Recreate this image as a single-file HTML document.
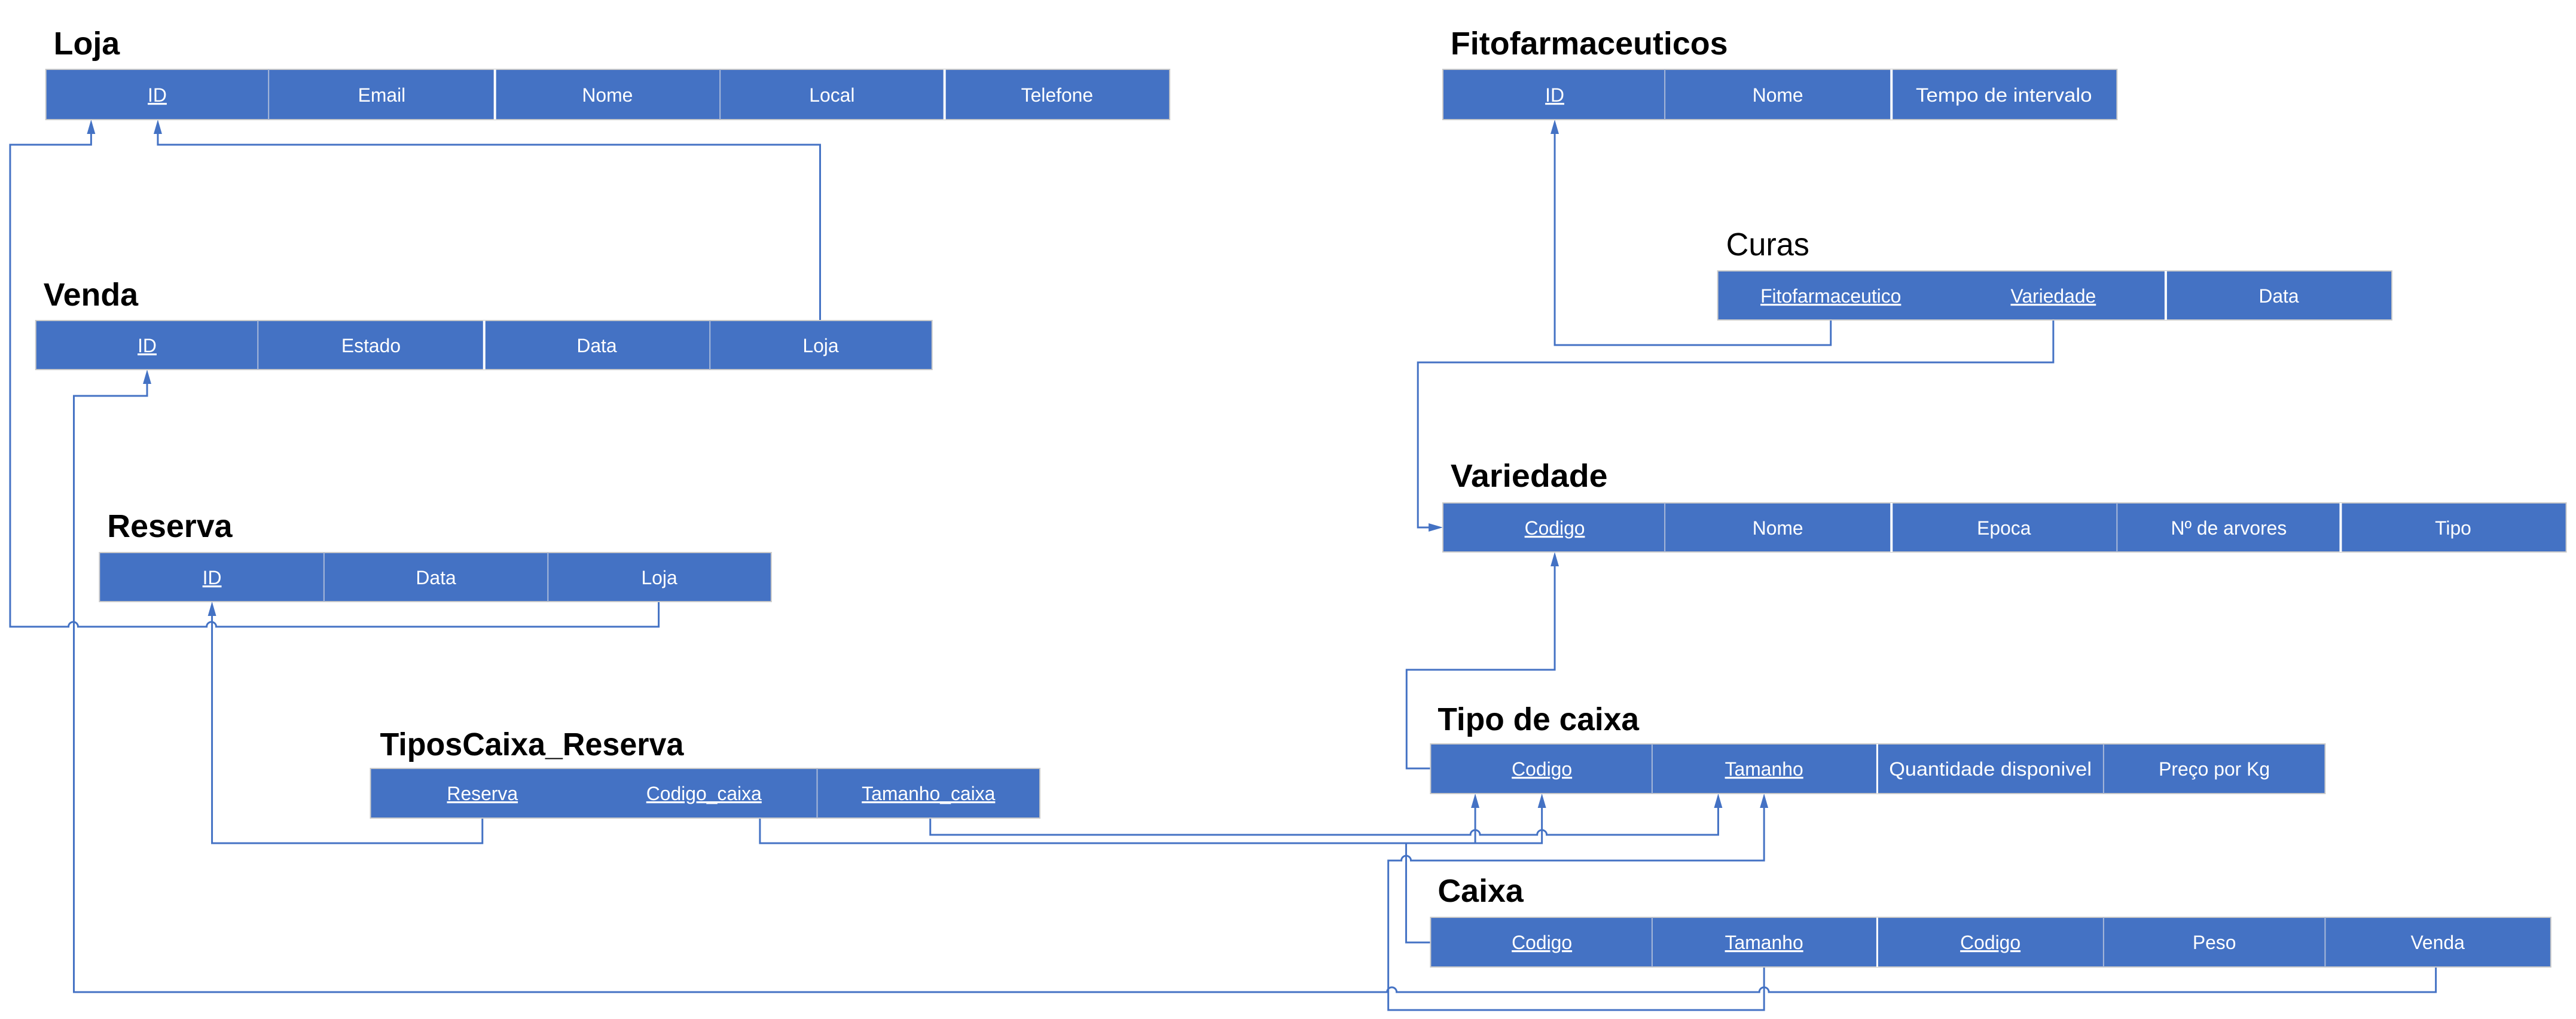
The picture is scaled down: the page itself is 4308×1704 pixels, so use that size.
<!DOCTYPE html>
<html><head><meta charset="utf-8"><style>
html,body{margin:0;padding:0;background:#fff;}
svg{display:block;}
.t{font-family:"Liberation Sans",sans-serif;font-weight:bold;font-size:54px;fill:#000;}
.c{font-family:"Liberation Sans",sans-serif;font-size:32px;fill:#fff;text-anchor:middle;}
.u{text-decoration:underline;}
.l{fill:none;stroke:#4472C4;stroke-width:3;}
</style></head><body>
<svg width="4308" height="1704" viewBox="0 0 4308 1704" xmlns="http://www.w3.org/2000/svg">
<!-- right-top group -->
<g transform="translate(2413,0) scale(0.995,1) translate(-2413,0)">
<g class="l">
<path d="M3065 535 V577 H2601 V215"/>
<path d="M3439 535 V606 H2371 V882 H2398"/>
<path d="M2392 1285 H2352 V1120 H2601 V938"/>
</g>
<g fill="#4472C4">
<polygon points="2601,200 2594,224 2608,224"/>
<polygon points="2413,882 2389,875 2389,889"/>
<polygon points="2601,923 2594,947 2608,947"/>
</g>
<g fill="#4472C4" stroke="#c9c9c9" stroke-width="2">
<rect x="2413" y="116" width="1133" height="84"/>
<rect x="2875" y="453" width="1133" height="82"/>
<rect x="2413" y="841" width="1888" height="82"/>
</g>
<g stroke="#a9b9d9" stroke-width="2">
<line x1="2786" y1="116" x2="2786" y2="200"/><line x1="3167" y1="116" x2="3167" y2="200" stroke="#fff" stroke-width="4"/>
<line x1="3628" y1="453" x2="3628" y2="535" stroke="#fff" stroke-width="4"/>
<line x1="2786" y1="841" x2="2786" y2="923"/><line x1="3167" y1="841" x2="3167" y2="923" stroke="#fff" stroke-width="4"/><line x1="3546" y1="841" x2="3546" y2="923"/><line x1="3922" y1="841" x2="3922" y2="923" stroke="#fff" stroke-width="4"/>
</g>
<text class="t" x="2426" y="91" textLength="466" lengthAdjust="spacingAndGlyphs">Fitofarmaceuticos</text>
<text class="t" x="2889" y="427" style="font-weight:normal" textLength="140" lengthAdjust="spacingAndGlyphs">Curas</text>
<text class="t" x="2426" y="814" textLength="264" lengthAdjust="spacingAndGlyphs">Variedade</text>
<g class="c">
<text x="2601" y="170" class="u">ID</text><text x="2976" y="170">Nome</text><text x="3356" y="170" textLength="296" lengthAdjust="spacingAndGlyphs">Tempo de intervalo</text>
<text x="3065" y="506" class="u">Fitofarmaceutico</text><text x="3439" y="506" class="u">Variedade</text><text x="3818" y="506">Data</text>
<text x="2601" y="894" class="u">Codigo</text><text x="2976" y="894">Nome</text><text x="3356" y="894">Epoca</text><text x="3734" y="894">Nº de arvores</text><text x="4111" y="894">Tipo</text>
</g>
</g>
<g transform="scale(0.996,1)">
<!-- connectors -->
<g class="l">
<path d="M1106 1006 V1048 H363 a8 8 0 0 0 -16 0 H131 a8 8 0 0 0 -16 0 H17 V242 H153 V215"/>
<path d="M1377 536 V242 H265 V215"/>
<path d="M247 630 V662 H124 V1659 H2329 a8 8 0 0 1 16 0 H2954 a8 8 0 0 1 16 0 H4090 V1617"/>
<path d="M810 1368 V1410 H356 V1021"/>
<path d="M1276 1368 V1410 H2589 V1342"/>
<path d="M1562 1368 V1396 H2469 a8 8 0 0 1 16 0 H2581 a8 8 0 0 1 16 0 H2885 V1342"/>
<path d="M2402 1576 H2361 V1410 H2477 V1342"/>
<path d="M2962 1617 V1689 H2331 V1439 H2353 a8 8 0 0 1 16 0 H2962 V1342"/>
</g>
<g fill="#4472C4">
<polygon points="153,200 146,224 160,224"/>
<polygon points="265,200 258,224 272,224"/>
<polygon points="247,618 240,642 254,642"/>
<polygon points="356,1006 349,1030 363,1030"/>
<polygon points="2477,1327 2470,1351 2484,1351"/>
<polygon points="2589,1327 2582,1351 2596,1351"/>
<polygon points="2885,1327 2878,1351 2892,1351"/>
<polygon points="2962,1327 2955,1351 2969,1351"/>
</g>
<!-- tables -->
<g fill="#4472C4" stroke="#c9c9c9" stroke-width="2">
<rect x="77" y="116" width="1887" height="84"/>
<rect x="60" y="536" width="1505" height="82"/>
<rect x="167" y="924" width="1128" height="82"/>
<rect x="622" y="1285" width="1124" height="83"/>
<rect x="2402" y="1244" width="1502" height="83"/>
<rect x="2402" y="1534" width="1881" height="83"/>
</g>
<g stroke="#a9b9d9" stroke-width="2">
<line x1="451" y1="116" x2="451" y2="200"/><line x1="831" y1="116" x2="831" y2="200" stroke="#fff" stroke-width="4"/><line x1="1209" y1="116" x2="1209" y2="200"/><line x1="1586" y1="116" x2="1586" y2="200" stroke="#fff" stroke-width="4"/>
<line x1="433" y1="536" x2="433" y2="618"/><line x1="813" y1="536" x2="813" y2="618" stroke="#fff" stroke-width="4"/><line x1="1192" y1="536" x2="1192" y2="618"/>
<line x1="544" y1="924" x2="544" y2="1006"/><line x1="920" y1="924" x2="920" y2="1006"/>
<line x1="1372" y1="1285" x2="1372" y2="1368"/>
<line x1="2774" y1="1244" x2="2774" y2="1327"/><line x1="3152" y1="1244" x2="3152" y2="1327" stroke="#fff" stroke-width="3"/><line x1="3532" y1="1244" x2="3532" y2="1327"/>
<line x1="2774" y1="1534" x2="2774" y2="1617"/><line x1="3152" y1="1534" x2="3152" y2="1617" stroke="#fff" stroke-width="3"/><line x1="3532" y1="1534" x2="3532" y2="1617"/><line x1="3904" y1="1534" x2="3904" y2="1617"/>
</g>
<!-- titles -->
<text class="t" x="90" y="91">Loja</text>
<text class="t" x="73" y="511">Venda</text>
<text class="t" x="180" y="898">Reserva</text>
<text class="t" x="638" y="1263" textLength="510" lengthAdjust="spacingAndGlyphs">TiposCaixa_Reserva</text>
<text class="t" x="2414" y="1221" textLength="338" lengthAdjust="spacingAndGlyphs">Tipo de caixa</text>
<text class="t" x="2414" y="1508">Caixa</text>
<!-- cell text -->
<g class="c">
<text x="264" y="170" class="u">ID</text><text x="641" y="170">Email</text><text x="1020" y="170">Nome</text><text x="1397" y="170">Local</text><text x="1775" y="170">Telefone</text>
<text x="247" y="589" class="u">ID</text><text x="623" y="589">Estado</text><text x="1002" y="589">Data</text><text x="1378" y="589">Loja</text>
<text x="356" y="977" class="u">ID</text><text x="732" y="977">Data</text><text x="1107" y="977">Loja</text>
<text x="810" y="1338" class="u">Reserva</text><text x="1182" y="1338" class="u">Codigo_caixa</text><text x="1559" y="1338" class="u">Tamanho_caixa</text>
<text x="2589" y="1297" class="u">Codigo</text><text x="2962" y="1297" class="u">Tamanho</text><text x="3342" y="1297" textLength="340" lengthAdjust="spacingAndGlyphs">Quantidade disponivel</text><text x="3718" y="1297">Preço por Kg</text>
<text x="2589" y="1587" class="u">Codigo</text><text x="2962" y="1587" class="u">Tamanho</text><text x="3342" y="1587" class="u">Codigo</text><text x="3718" y="1587">Peso</text><text x="4093" y="1587">Venda</text>
</g>
</g>
</svg>
</body></html>
